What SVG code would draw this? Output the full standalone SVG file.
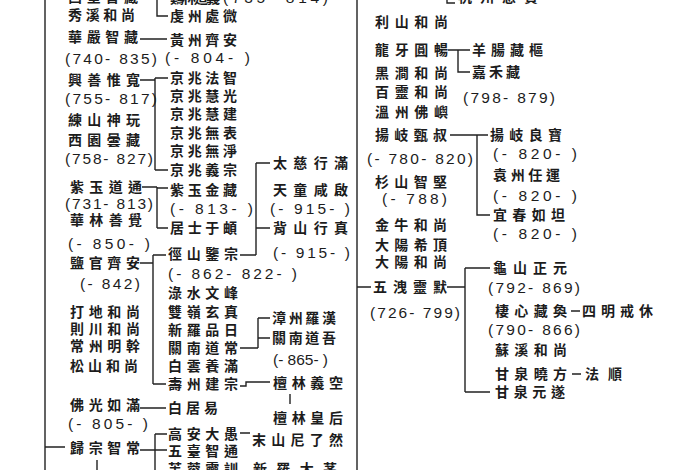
<svg xmlns="http://www.w3.org/2000/svg" width="700" height="470" viewBox="0 0 700 470">
<style>
.c{font-family:"Noto Sans CJK TC","Noto Sans CJK SC",sans-serif;font-size:14px;font-weight:700;fill:#1c1c1c}
.n{font-family:"Liberation Sans",sans-serif;font-size:15.5px;fill:#1c1c1c}
.l{stroke:#222;stroke-width:1.4;fill:none}
</style>
<rect width="700" height="470" fill="#fff"/>
<g id="connectors" class="l">
<path d="M45 0V470M357 0V470"/>
<path d="M45 447H65M357 287H371"/>
<path d="M157 0V16H168M140 39H167"/>
<path d="M140 80H155M155 78V170M155 78H168M155 170H168"/>
<path d="M142 187H157M157 187V228M157 188H168M157 228H168"/>
<path d="M240 255H256M256 163V255M256 163H270M256 228H270"/>
<path d="M140 263H153M153 255V384M153 255H166M153 384H166"/>
<path d="M240 348H258M258 318V348M258 318H270M258 338H270"/>
<path d="M240 386H246V382H270M290 394V404"/>
<path d="M140 408H166M140 450H167M155 434V470M155 434H167M240 433H250M97 460V470"/>
<path d="M448 50H470M458 50V72H470M447 0V3H455"/>
<path d="M450 135H488M477 135V215H490"/>
<path d="M447 287H465M465 268V392M465 268H490M465 392H490"/>
<path d="M571 311H580M572 374H581"/>
</g>
<g id="top-partial">
<text class="c" x="68" y="2" textLength="70">西堂智藏</text>
<text class="c" x="170" y="3" textLength="50">鷄林道義</text>
<text class="n" x="223" y="3" textLength="105">(735- 814)</text>
<text class="c" x="458" y="2" textLength="80">杭州慈賞</text>
</g>
<g id="col1">
<g id="n-xiuxi"><text class="c" x="68" y="20" textLength="67">秀溪和尚</text></g>
<g id="n-huayan"><text class="c" x="68" y="42" textLength="70">華嚴智藏</text><text class="n" x="65" y="63.5" textLength="92">(740- 835)</text></g>
<g id="n-xingshan"><text class="c" x="68" y="85" textLength="72">興善惟寬</text><text class="n" x="65" y="103.5" textLength="92">(755- 817)</text></g>
<g id="n-lianshan"><text class="c" x="68" y="125" textLength="72">練山神玩</text></g>
<g id="n-xiyuan"><text class="c" x="68" y="145" textLength="72">西園曇藏</text><text class="n" x="65" y="163.5" textLength="88">(758- 827)</text></g>
<g id="n-ziyu"><text class="c" x="70" y="192" textLength="72">紫玉道通</text><text class="n" x="65" y="208.5" textLength="88">(731- 813)</text></g>
<g id="n-hualin"><text class="c" x="70" y="225" textLength="72">華林善覺</text><text class="n" x="68" y="248.5" textLength="82">(- 850- )</text></g>
<g id="n-yanguan"><text class="c" x="70" y="268" textLength="70">鹽官齊安</text><text class="n" x="80" y="288.5" textLength="60">(- 842)</text></g>
<g id="n-dadi"><text class="c" x="70" y="317" textLength="70">打地和尚</text></g>
<g id="n-zechuan"><text class="c" x="70" y="334" textLength="70">則川和尚</text></g>
<g id="n-changzhou"><text class="c" x="70" y="351" textLength="70">常州明幹</text></g>
<g id="n-songshan"><text class="c" x="70" y="371" textLength="68">松山和尚</text></g>
<g id="n-foguang"><text class="c" x="70" y="410" textLength="70">佛光如滿</text><text class="n" x="68" y="428.5" textLength="80">(- 805- )</text></g>
<g id="n-guizong"><text class="c" x="70" y="453" textLength="70">歸宗智常</text></g>
</g>
<g id="col2">
<g id="n-qianzhou"><text class="c" x="170" y="21" textLength="67">虔州處微</text></g>
<g id="n-huangzhou"><text class="c" x="170" y="45" textLength="67">黃州齊安</text><text class="n" x="165" y="62.5" textLength="85">(- 804- )</text></g>
<g id="n-jz1"><text class="c" x="170" y="83" textLength="67">京兆法智</text></g>
<g id="n-jz2"><text class="c" x="170" y="101" textLength="67">京兆慧光</text></g>
<g id="n-jz3"><text class="c" x="170" y="119" textLength="67">京兆慧建</text></g>
<g id="n-jz4"><text class="c" x="170" y="138" textLength="67">京兆無表</text></g>
<g id="n-jz5"><text class="c" x="170" y="156" textLength="67">京兆無淨</text></g>
<g id="n-jz6"><text class="c" x="170" y="175" textLength="67">京兆義宗</text></g>
<g id="n-ziyujin"><text class="c" x="170" y="195" textLength="67">紫玉金藏</text><text class="n" x="170" y="213.5" textLength="83">(- 813- )</text></g>
<g id="n-jushi"><text class="c" x="170" y="233" textLength="67">居士于頔</text></g>
<g id="n-jingshan"><text class="c" x="168" y="259" textLength="70">徑山鑒宗</text><text class="n" x="168" y="278.5" textLength="129">(- 862- 822- )</text></g>
<g id="n-lushui"><text class="c" x="168" y="298" textLength="70">淥水文峰</text></g>
<g id="n-shuangling"><text class="c" x="168" y="317" textLength="70">雙嶺玄真</text></g>
<g id="n-xinluo"><text class="c" x="168" y="335" textLength="70">新羅品日</text></g>
<g id="n-guannan"><text class="c" x="168" y="353" textLength="70">關南道常</text></g>
<g id="n-baiyun"><text class="c" x="168" y="371" textLength="70">白雲養滿</text></g>
<g id="n-shouzhou"><text class="c" x="168" y="389" textLength="70">壽州建宗</text></g>
<g id="n-baijuyi"><text class="c" x="168" y="413" textLength="50">白居易</text></g>
<g id="n-gaoan"><text class="c" x="168" y="439" textLength="70">高安大愚</text></g>
<g id="n-wutai"><text class="c" x="168" y="456" textLength="70">五臺智通</text></g>
<g id="n-furong"><text class="c" x="168" y="474" textLength="70">芙蓉靈訓</text></g>
</g>
<g id="col3">
<g id="n-taici"><text class="c" x="273" y="168" textLength="75">太慈行滿</text></g>
<g id="n-tiantong"><text class="c" x="273" y="195" textLength="75">天童咸啟</text><text class="n" x="270" y="213.5" textLength="80">(- 915- )</text></g>
<g id="n-beishan"><text class="c" x="273" y="233" textLength="75">背山行真</text><text class="n" x="273" y="257.5" textLength="77">(- 915- )</text></g>
<g id="n-zhangzhou"><text class="c" x="272" y="323" textLength="64">漳州羅漢</text></g>
<g id="n-guannandw"><text class="c" x="272" y="343" textLength="64">關南道吾</text><text class="n" x="273" y="364.5" textLength="55">(- 865- )</text></g>
<g id="n-tanlin"><text class="c" x="273" y="388" textLength="70">檀林義空</text></g>
<g id="n-tanlinhh"><text class="c" x="273" y="423" textLength="70">檀林皇后</text></g>
<g id="n-moshan"><text class="c" x="252" y="445" textLength="91">末山尼了然</text></g>
<g id="n-xinluodm"><text class="c" x="253" y="474" textLength="84">新羅大茅</text></g>
</g>
<g id="col4">
<g id="n-lishan"><text class="c" x="375" y="27" textLength="73">利山和尚</text></g>
<g id="n-longya"><text class="c" x="375" y="55" textLength="73">龍牙圓暢</text></g>
<g id="n-heijian"><text class="c" x="375" y="78" textLength="73">黑澗和尚</text></g>
<g id="n-bailing"><text class="c" x="375" y="97" textLength="73">百靈和尚</text></g>
<g id="n-wenzhou"><text class="c" x="375" y="117" textLength="73">溫州佛嶼</text></g>
<g id="n-yangqi"><text class="c" x="375" y="140" textLength="72">揚岐甄叔</text><text class="n" x="367" y="163.5" textLength="106">(- 780- 820)</text></g>
<g id="n-shanshan"><text class="c" x="375" y="187" textLength="72">杉山智堅</text><text class="n" x="382" y="203.5" textLength="65">(- 788)</text></g>
<g id="n-jinniu"><text class="c" x="375" y="230" textLength="72">金牛和尚</text></g>
<g id="n-dayang1"><text class="c" x="375" y="250" textLength="72">大陽希頂</text></g>
<g id="n-dayang2"><text class="c" x="375" y="267" textLength="72">大陽和尚</text></g>
<g id="n-wuxie"><text class="c" x="373" y="292" textLength="74">五洩靈默</text><text class="n" x="370" y="317.5" textLength="90">(726- 799)</text></g>
</g>
<g id="col5">
<g id="n-yangchang"><text class="c" x="472" y="55" textLength="71">羊腸藏樞</text></g>
<g id="n-jiahe"><text class="c" x="472" y="77" textLength="48">嘉禾藏</text><text class="n" x="463" y="102.5" textLength="92">(798- 879)</text></g>
<g id="n-yangqilb"><text class="c" x="490" y="140" textLength="72">揚岐良寶</text><text class="n" x="493" y="158.5" textLength="84">(- 820- )</text></g>
<g id="n-yuanzhou"><text class="c" x="493" y="180" textLength="67">袁州任運</text><text class="n" x="493" y="200.5" textLength="84">(- 820- )</text></g>
<g id="n-yichun"><text class="c" x="493" y="220" textLength="72">宜春如坦</text><text class="n" x="493" y="238.5" textLength="84">(- 820- )</text></g>
<g id="n-guishan"><text class="c" x="493" y="273" textLength="74">龜山正元</text><text class="n" x="488" y="292.5" textLength="92">(792- 869)</text></g>
<g id="n-qixin"><text class="c" x="495" y="316" textLength="72">棲心藏奐</text><text class="n" x="488" y="334.5" textLength="92">(790- 866)</text></g>
<g id="n-siming"><text class="c" x="582" y="316" textLength="71">四明戒休</text></g>
<g id="n-suxi"><text class="c" x="495" y="355" textLength="72">蘇溪和尚</text></g>
<g id="n-ganquan1"><text class="c" x="495" y="379" textLength="72">甘泉曉方</text></g>
<g id="n-fashun"><text class="c" x="585" y="379" textLength="37">法順</text></g>
<g id="n-ganquan2"><text class="c" x="495" y="397" textLength="70">甘泉元遂</text></g>
</g>
</svg>
